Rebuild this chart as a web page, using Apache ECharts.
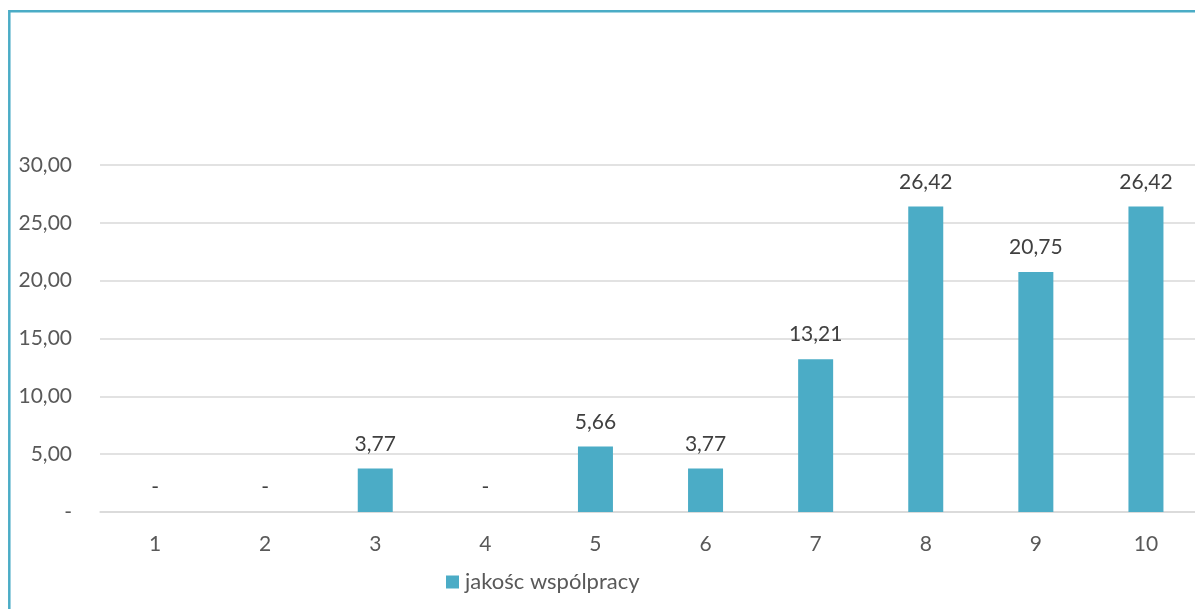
<!DOCTYPE html>
<html>
<head>
<meta charset="utf-8">
<script src="https://cdn.jsdelivr.net/npm/echarts@6/dist/echarts.min.js"></script>
<style>
html,body{margin:0;padding:0;background:#fff;overflow:hidden;width:1195px;height:609px;}
#chart{width:1210px;height:609px;}
</style>
</head>
<body>
<div id="chart"></div>
<script>
const categories = ['1','2','3','4','5','6','7','8','9','10'];
const values = [0, 0, 3.77, 0, 5.66, 3.77, 13.21, 26.42, 20.75, 26.42];
const seriesName = 'jakośc wspólpracy';
const yTicks = {min: 0, max: 30, interval: 5};

const fmt = v => v === 0 ? '-' : v.toFixed(2).replace('.', ',');
const FONT = 'Lato, "Open Sans", sans-serif';

const chart = echarts.init(document.getElementById('chart'), null, {renderer: 'canvas'});
chart.setOption({
  animation: false,
  backgroundColor: '#ffffff',
  graphic: [{
    type: 'rect',
    shape: {x: 9.3, y: 11.3, width: 3000, height: 3000},
    style: {fill: 'none', stroke: '#4BACC6', lineWidth: 2.5},
    silent: true
  }],
  grid: {left: 100, top: 165, width: 1101, height: 347, containLabel: false},
  legend: {
    data: [seriesName],
    left: 446, top: 571, padding: 0,
    itemWidth: 13, itemHeight: 13, itemGap: 6,
    icon: 'rect',
    textStyle: {color: '#595959', fontSize: 22, fontFamily: FONT, padding: [0, 0, 0, 1]}
  },
  xAxis: {
    type: 'category',
    data: categories,
    axisLine: {show: true, lineStyle: {color: '#d9d9d9', width: 1.5}},
    axisTick: {show: false},
    axisLabel: {color: '#595959', fontSize: 21, fontFamily: FONT, margin: 22}
  },
  yAxis: {
    type: 'value',
    min: yTicks.min, max: yTicks.max, interval: yTicks.interval,
    axisLine: {show: false},
    axisTick: {show: false},
    splitLine: {lineStyle: {color: '#d9d9d9', width: 1.5}},
    axisLabel: {color: '#595959', fontSize: 21, fontFamily: FONT, margin: 28, formatter: fmt}
  },
  series: [{
    name: seriesName,
    type: 'bar',
    data: values,
    barWidth: 35,
    itemStyle: {color: '#4BACC6'},
    label: {
      show: true, position: 'top', distance: 14,
      color: '#404040', fontSize: 21, fontFamily: FONT,
      formatter: p => fmt(p.value)
    }
  }]
});
</script>
</body>
</html>
